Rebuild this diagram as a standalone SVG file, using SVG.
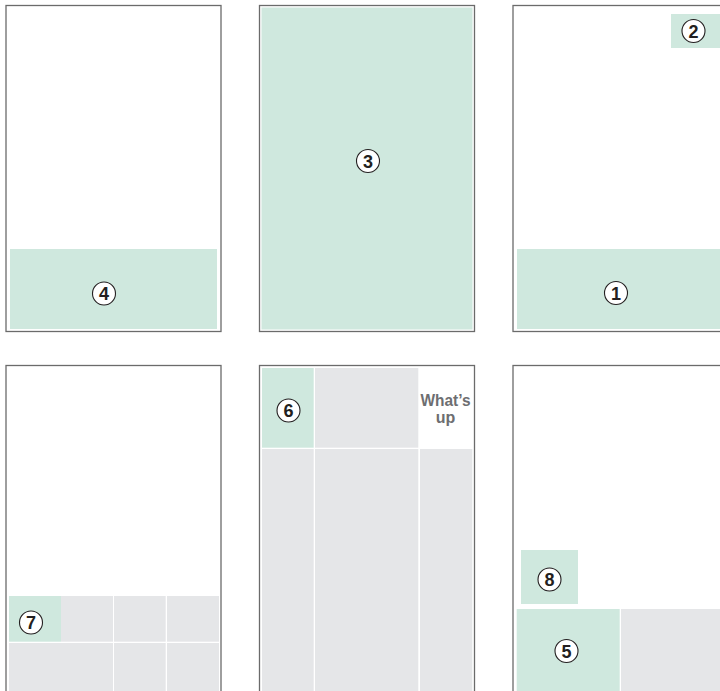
<svg xmlns="http://www.w3.org/2000/svg" width="720" height="691" viewBox="0 0 720 691">
<style>
.frame{fill:#fff;stroke:#6b6b6b;stroke-width:1.3}
.g{fill:#cfe8de}
.k{fill:#e5e6e8}
.c{fill:#fff;stroke:#231f20;stroke-width:1.1}
.n{font-family:"Liberation Sans",Arial,sans-serif;font-weight:bold;font-size:18px;fill:#231f20;text-anchor:middle}
.t{font-family:"Liberation Sans",Arial,sans-serif;font-weight:bold;font-size:16px;fill:#6d6e71;text-anchor:middle}
</style>
<rect width="720" height="691" fill="#fff"/>
<g id="panel-top-left">
<rect class="frame" x="6" y="5.5" width="215" height="326"/>
<rect class="g" x="10" y="249" width="207" height="80"/>
<circle class="c" cx="104" cy="293.5" r="11.5"/>
<text class="n" x="104" y="300">4</text>
</g>
<g id="panel-top-middle">
<rect class="frame" x="259.5" y="5.5" width="215" height="326"/>
<rect class="g" x="261.5" y="7.5" width="211" height="322"/>
<circle class="c" cx="368" cy="161" r="11.5"/>
<text class="n" x="368" y="167.5">3</text>
</g>
<g id="panel-top-right">
<rect class="frame" x="513" y="5.5" width="230" height="326"/>
<rect class="g" x="671" y="14" width="49" height="34"/>
<circle class="c" cx="693.5" cy="31" r="11.5"/>
<text class="n" x="693.5" y="37.5">2</text>
<rect class="g" x="517" y="249" width="203" height="80"/>
<circle class="c" cx="616" cy="293" r="11.5"/>
<text class="n" x="616" y="299.5">1</text>
</g>
<g id="panel-bottom-left">
<rect class="frame" x="6" y="365.5" width="215" height="340"/>
<rect class="g" x="9" y="596" width="52" height="45.7"/>
<rect class="k" x="61" y="596" width="52" height="45.7"/>
<rect class="k" x="114" y="596" width="51.7" height="45.7"/>
<rect class="k" x="167" y="596" width="52" height="45.7"/>
<rect class="k" x="9" y="643" width="104" height="50"/>
<rect class="k" x="114" y="643" width="51.7" height="50"/>
<rect class="k" x="167" y="643" width="52" height="50"/>
<circle class="c" cx="31" cy="622.5" r="11.5"/>
<text class="n" x="31" y="629">7</text>
</g>
<g id="panel-bottom-middle">
<rect class="frame" x="259.5" y="365.5" width="215" height="340"/>
<rect class="g" x="262" y="368" width="51.7" height="79.7"/>
<rect class="k" x="315" y="368" width="103.3" height="79.7"/>
<rect class="k" x="262" y="449" width="51.7" height="244"/>
<rect class="k" x="315" y="449" width="103.3" height="244"/>
<rect class="k" x="420" y="449" width="52.3" height="244"/>
<circle class="c" cx="288.5" cy="410.5" r="11.5"/>
<text class="n" x="288.5" y="417">6</text>
<text class="t" x="445.5" y="405.5" textLength="50" lengthAdjust="spacingAndGlyphs">What’s</text>
<text class="t" x="445.5" y="423">up</text>
</g>
<g id="panel-bottom-right">
<rect class="frame" x="513" y="365.5" width="230" height="340"/>
<rect class="g" x="521" y="550" width="57" height="54"/>
<circle class="c" cx="549.5" cy="579.5" r="11.5"/>
<text class="n" x="549.5" y="586">8</text>
<rect class="g" x="516.7" y="609" width="103" height="84"/>
<rect class="k" x="621" y="609" width="99" height="84"/>
<circle class="c" cx="566.5" cy="651" r="11.5"/>
<text class="n" x="566.5" y="657.5">5</text>
</g>
<g id="connectors"></g>
</svg>
